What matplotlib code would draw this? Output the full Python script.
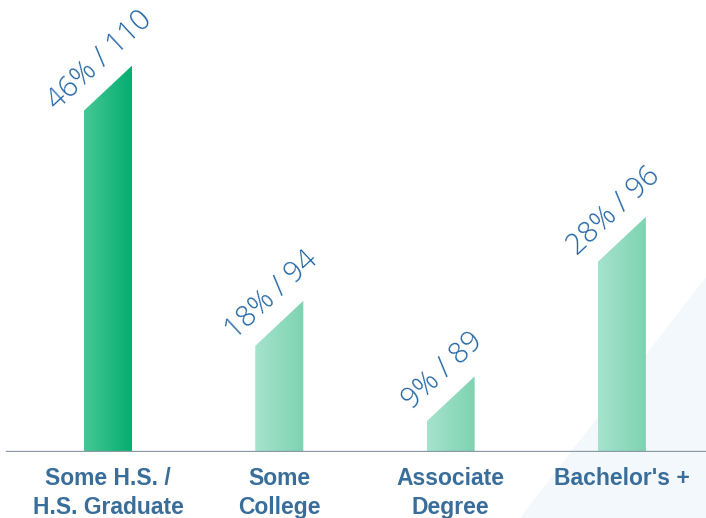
import numpy as np
import matplotlib.pyplot as plt
from matplotlib.patches import Polygon
from matplotlib.colors import LinearSegmentedColormap

# Education level shares with respondent counts
categories = ['Some H.S. /\nH.S. Graduate', 'Some\nCollege', 'Associate\nDegree', "Bachelor's +"]
percents = [46, 18, 9, 28]
counts = [110, 94, 89, 96]

W, H = 706, 518
fig = plt.figure(figsize=(W / 100, H / 100), dpi=100)
fig.patch.set_facecolor('white')

# faint triangle in the lower right corner, on its own background axes
bg = fig.add_axes([0, 0, 1, 1], zorder=0)
bg.set_xlim(0, W)
bg.set_ylim(H, 0)
bg.axis('off')
bg.add_patch(Polygon([(520, H), (W, H), (W, 277)], closed=True,
                     facecolor='#f3f8fc', edgecolor='none'))

base = 452  # baseline in pixels from the top
px_per_unit = 8.4
spacing = 171.3
first_x = 108
ax = fig.add_axes([0, (H - base) / H, 1, base / H], zorder=1)
ax.set_facecolor('none')
ax.set_xlim(-first_x / spacing, (W - first_x) / spacing)
ax.set_ylim(0, base / px_per_unit)
for s in ax.spines.values():
    s.set_visible(False)
ax.tick_params(axis='both', length=0)
ax.set_yticks([])

bar_w = 48 / spacing
slant = 45 / px_per_unit

dark = LinearSegmentedColormap.from_list('dark', ['#45c796', '#05ae70'])
light = LinearSegmentedColormap.from_list('light', ['#a6e3cd', '#7dd3b2'])
grad = np.linspace(0, 1, 256).reshape(1, -1)

for i, (p, n) in enumerate(zip(percents, counts)):
    x0, x1 = i - bar_w / 2, i + bar_w / 2
    poly = Polygon([(x0, 0), (x1, 0), (x1, p), (x0, p - slant)], closed=True,
                   facecolor='none', edgecolor='none')
    ax.add_patch(poly)
    im = ax.imshow(grad, cmap=dark if i == 0 else light, aspect='auto',
                   extent=(x0, x1, 0, p), zorder=2, interpolation='bicubic')
    im.set_clip_path(poly)
    ax.annotate(f'{p}% / {n}', xy=(i, p - slant / 2), xytext=(-8, 28),
                textcoords='offset pixels', rotation=43, rotation_mode='anchor',
                ha='center', va='center', fontsize=21, color='#1f63a3',
                family=['Open Sans', 'DejaVu Sans'], fontweight=300,
                fontstyle='normal', zorder=3)

ax.axhline(0, xmin=7 / W, xmax=1, color='#8b99a6', linewidth=2.4, zorder=4)

ax.set_xticks(range(len(categories)))
ax.set_xticklabels(categories, fontsize=16.5, fontweight='bold', color='#3a6e9a',
                   family=['Liberation Sans', 'DejaVu Sans'], linespacing=1.3)
ax.tick_params(axis='x', pad=11)
ax.set_aspect('auto')

fig.savefig('out.png', dpi=100)
